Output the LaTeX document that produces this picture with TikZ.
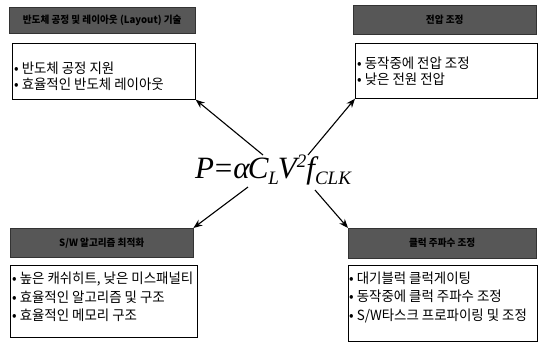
\documentclass[tikz,border=0pt]{standalone}
\usepackage{fontspec}
\setmainfont{Liberation Serif}
\newfontfamily\kr[FakeStretch=0.96]{Noto Sans CJK KR}
\usetikzlibrary{arrows.meta}
\newcommand{\subsz}[1]{{\fontsize{19}{19}\selectfont #1}}
\begin{document}
\begin{tikzpicture}[x=1pt,y=-1pt,
 hdr/.style={fill=black!66,draw=black!80,line width=0.4pt,anchor=north west,inner sep=0pt,font=\kr\fontsize{10}{10}\selectfont\bfseries,text=black},
 box/.style={draw=black,line width=0.7pt,anchor=north west,inner sep=0pt},
 txta/.style={anchor=west,align=left,inner sep=0pt,font=\kr\fontsize{14}{16}\selectfont},
 txtb/.style={anchor=west,align=left,inner sep=0pt,font=\kr\fontsize{14}{18.5}\selectfont},
 arr/.style={-{Stealth[length=9pt,width=7pt]},line width=1.1pt}]
\useasboundingbox (0,0) rectangle (538,341);
% headers
\node[hdr,minimum width=186pt,minimum height=26pt] (h1) at (9,7) {반도체 공정 및 레이아웃 (Layout) 기술};
\node[hdr,minimum width=183pt,minimum height=29pt] (h2) at (353,5) {전압 조정};
\node[hdr,minimum width=183pt,minimum height=29pt] (h3) at (10,228) {S/W 알고리즘 최적화};
\node[hdr,minimum width=188pt,minimum height=30pt] (h4) at (348,228) {클럭 주파수 조정};
% boxes
\node[box,minimum width=183pt,minimum height=56pt] (b1) at (12,43) {};
\node[box,minimum width=182pt,minimum height=55pt] (b2) at (355,43) {};
\node[box,minimum width=187pt,minimum height=72pt] (b3) at (10,265) {};
\node[box,minimum width=189pt,minimum height=76pt] (b4) at (348,265) {};
% texts
\node[txta] (t1) at (14,76) {• 반도체 공정 지원\\• 효율적인 반도체 레이아웃};
\node[txta] (t2) at (357,71) {• 동작중에 전압 조정\\• 낮은 전원 전압};
\node[txtb] (t3) at (12,297) {• 높은 캐쉬히트, 낮은 미스패널티\\• 효율적인 알고리즘 및 구조\\• 효율적인 메모리 구조};
\node[txtb] (t4) at (349,297) {• 대기블럭 클럭게이팅\\• 동작중에 클럭 주파수 조정\\• S/W타스크 프로파이링 및 조정};
% formula
\node[inner sep=0pt] (f) at (273,170) {\fontsize{31}{31}\selectfont\itshape P\kern1pt{\upshape=}\kern1pt α\kern-2pt C\raisebox{-6pt}{\subsz{L}}\kern-1pt V\raisebox{11pt}{\subsz{2}}\kern0pt f\raisebox{-6pt}{\subsz{CLK}}};
\coordinate (s1) at (263,155);
\coordinate (s2) at (308,155);
\coordinate (s3) at (248,187);
\coordinate (s4) at (315,190);
\draw[arr] (s1) -- (b1.south east);
\draw[arr] (s2) -- (b2.south west);
\draw[arr] (s3) -- (h3.north east);
\draw[arr] (s4) -- (h4.north west);
\end{tikzpicture}
\end{document}
